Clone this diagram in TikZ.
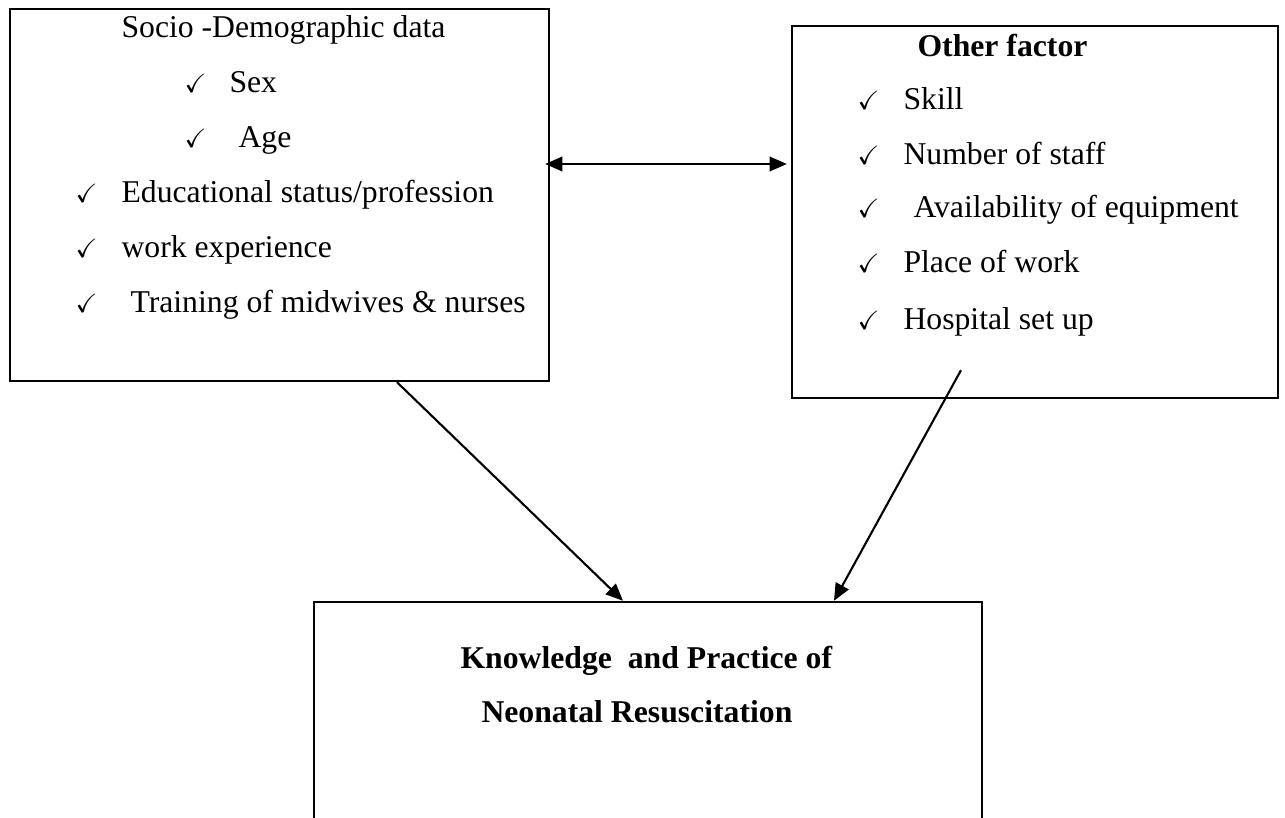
\documentclass[tikz,border=0pt]{standalone}
\usepackage{amssymb}
\usepackage{fontspec}
\setmainfont{Liberation Serif}
\usepackage{tikz}
\usetikzlibrary{arrows.meta}
\newlength\pxu
\setlength\pxu{0.3785pt}
\newcommand{\tick}[1]{\makebox[#1\pxu][l]{\fontsize{10pt}{10pt}\selectfont\checkmark}}
\tikzstyle{box}  =[draw, rectangle, line width=0.9pt,
                   inner sep=0pt]
\tikzstyle{item} =[anchor=base west, inner sep=0pt,
                   font=\fontsize{12pt}{14pt}\selectfont]
\tikzstyle{link} =[>={Triangle[length=6.5pt,width=5.5pt]},
                   line width=0.8pt]

\begin{document}
\begin{tikzpicture}[x=0.3785pt, y=-0.3785pt]
    \useasboundingbox (0,0) rectangle (1285,818);

    % boxes
    \node[box, minimum width=539\pxu, minimum height=372\pxu] (demo)  at (279.5,195) {};
    \node[box, minimum width=486\pxu, minimum height=372\pxu] (other) at (1035,212) {};
    \node[box, minimum width=668\pxu, minimum height=240\pxu] (know)  at (648,722) {};

    % socio-demographic list
    \node[item] (demotitle) at (121,38) {Socio -Demographic data};
    \foreach \x/\y/\g/\txt [count=\i] in {184/93/45/Sex, 184/148/54/Age,
            75/203/46/{Educational status/profession}, 75/258/46/work experience,
            75/313/55/Training of midwives \& nurses}
        \node[item] (demo\i) at (\x,\y) {\tick{\g}\txt};

    % other factors
    \node[item] (othertitle) at (917,57) {\bfseries Other factor};
    \foreach \y/\g/\txt [count=\i] in {110/46/Skill, 165/46/Number of staff,
            218/56/Availability of equipment, 273/46/Place of work, 330/46/Hospital set up}
        \node[item] (other\i) at (857,\y) {\tick{\g}\txt};

    % outcome
    \node[item] (know1) at (460,668) {\bfseries Knowledge~ and Practice of};
    \node[item] (know2) at (481,723) {\bfseries Neonatal Resuscitation};

    \draw[link,<->] ([shift={(-5,-31)}]demo.east) -- ([shift={(-4,-48)}]other.west);
    \draw[link,->] ([xshift=117.5\pxu]demo.south) -- ([xshift=-25\pxu]know.north);
    \draw[link,->] ([shift={(-74,-29)}]other.south) -- ([xshift=186\pxu]know.north);
\end{tikzpicture}
\end{document}
